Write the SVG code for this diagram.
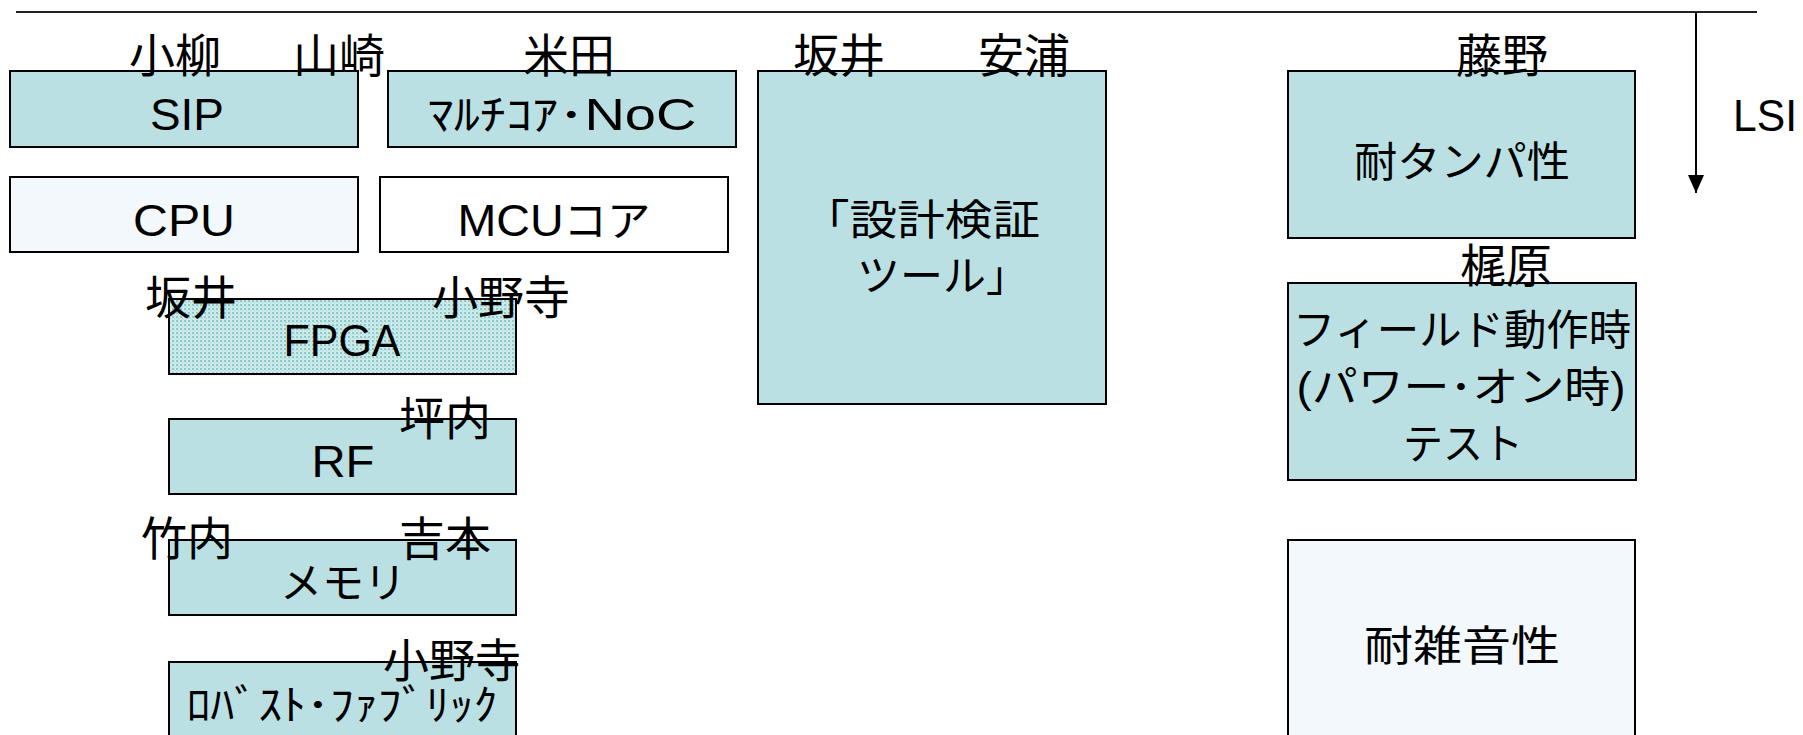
<svg xmlns="http://www.w3.org/2000/svg" width="1803" height="735" viewBox="0 0 1803 735">
<style>
.box{stroke:#000;stroke-width:2}
.teal{fill:#bbe0e3}
.pale{fill:#f2f8fc}
.white{fill:#fff}
.lbl{font-family:"Liberation Sans","Noto Sans CJK JP",sans-serif;font-size:42px;fill:#000;text-anchor:middle}
.lat{font-size:45px}
.name{font-family:"Noto Sans CJK JP",sans-serif;font-size:46px;fill:#000}
</style>
<defs>
<pattern id="dots" width="4" height="4" patternUnits="userSpaceOnUse">
<rect width="4" height="4" fill="#cdeaea"/>
<rect x="0" y="0" width="2" height="2" fill="#8ccaca"/>
<rect x="2" y="2" width="1" height="1" fill="#a8d8d8"/>
</pattern>
<marker id="arr" viewBox="0 0 18 16" refX="18" refY="8" markerWidth="18" markerHeight="16" markerUnits="userSpaceOnUse" orient="auto">
<path d="M0,0 L18,8 L0,16 z" fill="#000"/>
</marker>
</defs>
<rect width="1803" height="735" fill="#fff"/>
<g id="connectors">
<line x1="16" y1="12" x2="1757" y2="12" stroke="#222" stroke-width="2"/>
<line x1="1696" y1="12" x2="1696" y2="193" stroke="#000" stroke-width="2" marker-end="url(#arr)"/>
</g>
<g id="lsi">
<text x="1733" y="131" style="font-family:'Liberation Sans',sans-serif;font-size:45px" textLength="64" lengthAdjust="spacingAndGlyphs">LSI</text>
</g>
<g id="sip">
<rect class="box teal" x="10" y="71" width="348" height="76"/>
<text class="lbl lat" x="187" y="130" textLength="74" lengthAdjust="spacingAndGlyphs">SIP</text>
<text class="name" x="129" y="72">小柳</text>
<text class="name" x="293" y="72">山崎</text>
</g>
<g id="multicore">
<rect class="box teal" x="388" y="71" width="348" height="76"/>
<text class="lbl" x="562" y="130" textLength="269" lengthAdjust="spacingAndGlyphs">ﾏﾙﾁｺｱ･<tspan class="lat">NoC</tspan></text>
<text class="name" x="523" y="72">米田</text>
</g>
<g id="cpu">
<rect class="box pale" x="10" y="177" width="348" height="75"/>
<text class="lbl lat" x="184" y="236" textLength="102" lengthAdjust="spacingAndGlyphs">CPU</text>
</g>
<g id="mcu">
<rect class="box white" x="380" y="177" width="348" height="75"/>
<text class="lbl" x="554" y="236" textLength="193" lengthAdjust="spacingAndGlyphs"><tspan class="lat">MCU</tspan>コア</text>
</g>
<g id="verify">
<rect class="box teal" x="758" y="71" width="348" height="333"/>
<text class="lbl" x="802" y="235" style="text-anchor:start" textLength="238" lengthAdjust="spacingAndGlyphs">「設計検証</text>
<text class="lbl" x="857" y="291" style="text-anchor:start" textLength="172" lengthAdjust="spacingAndGlyphs">ツール」</text>
<text class="name" x="793" y="72">坂井</text>
<text class="name" x="978" y="72">安浦</text>
</g>
<g id="tamper">
<rect class="box teal" x="1288" y="71" width="347" height="167"/>
<text class="lbl" x="1462" y="177" textLength="216" lengthAdjust="spacingAndGlyphs">耐タンパ性</text>
<text class="name" x="1456" y="72">藤野</text>
</g>
<g id="field">
<rect class="box teal" x="1288" y="283" width="348" height="197"/>
<text class="lbl" x="1462" y="345" textLength="338" lengthAdjust="spacingAndGlyphs">フィールド動作時</text>
<text class="lbl" x="1461" y="402" textLength="329" lengthAdjust="spacingAndGlyphs">(パワー･オン時)</text>
<text class="lbl" x="1463" y="459" textLength="120" lengthAdjust="spacingAndGlyphs">テスト</text>
<text class="name" x="1460" y="282">梶原</text>
</g>
<g id="noise">
<rect class="box pale" x="1288" y="540" width="347" height="210"/>
<text class="lbl" x="1462" y="661" textLength="196" lengthAdjust="spacingAndGlyphs">耐雑音性</text>
</g>
<g id="fpga">
<rect class="box" fill="url(#dots)" x="169" y="299" width="347" height="75"/>
<text class="lbl lat" x="342" y="356" textLength="117" lengthAdjust="spacingAndGlyphs">FPGA</text>
<text class="name" x="145" y="314">坂井</text>
<text class="name" x="432" y="314">小野寺</text>
</g>
<g id="rf">
<rect class="box teal" x="169" y="419" width="347" height="75"/>
<text class="lbl lat" x="343" y="477" textLength="63" lengthAdjust="spacingAndGlyphs">RF</text>
<text class="name" x="399" y="435">坪内</text>
</g>
<g id="memory">
<rect class="box teal" x="169" y="540" width="347" height="75"/>
<text class="lbl" x="343" y="598">メモリ</text>
<text class="name" x="141" y="555">竹内</text>
<text class="name" x="399" y="555">吉本</text>
</g>
<g id="robust">
<rect class="box teal" x="169" y="662" width="347" height="90"/>
<text class="lbl" x="342" y="720" textLength="311" lengthAdjust="spacingAndGlyphs">ﾛﾊﾞｽﾄ･ﾌｧﾌﾞﾘｯｸ</text>
<text class="name" x="383" y="677">小野寺</text>
</g>
</svg>
